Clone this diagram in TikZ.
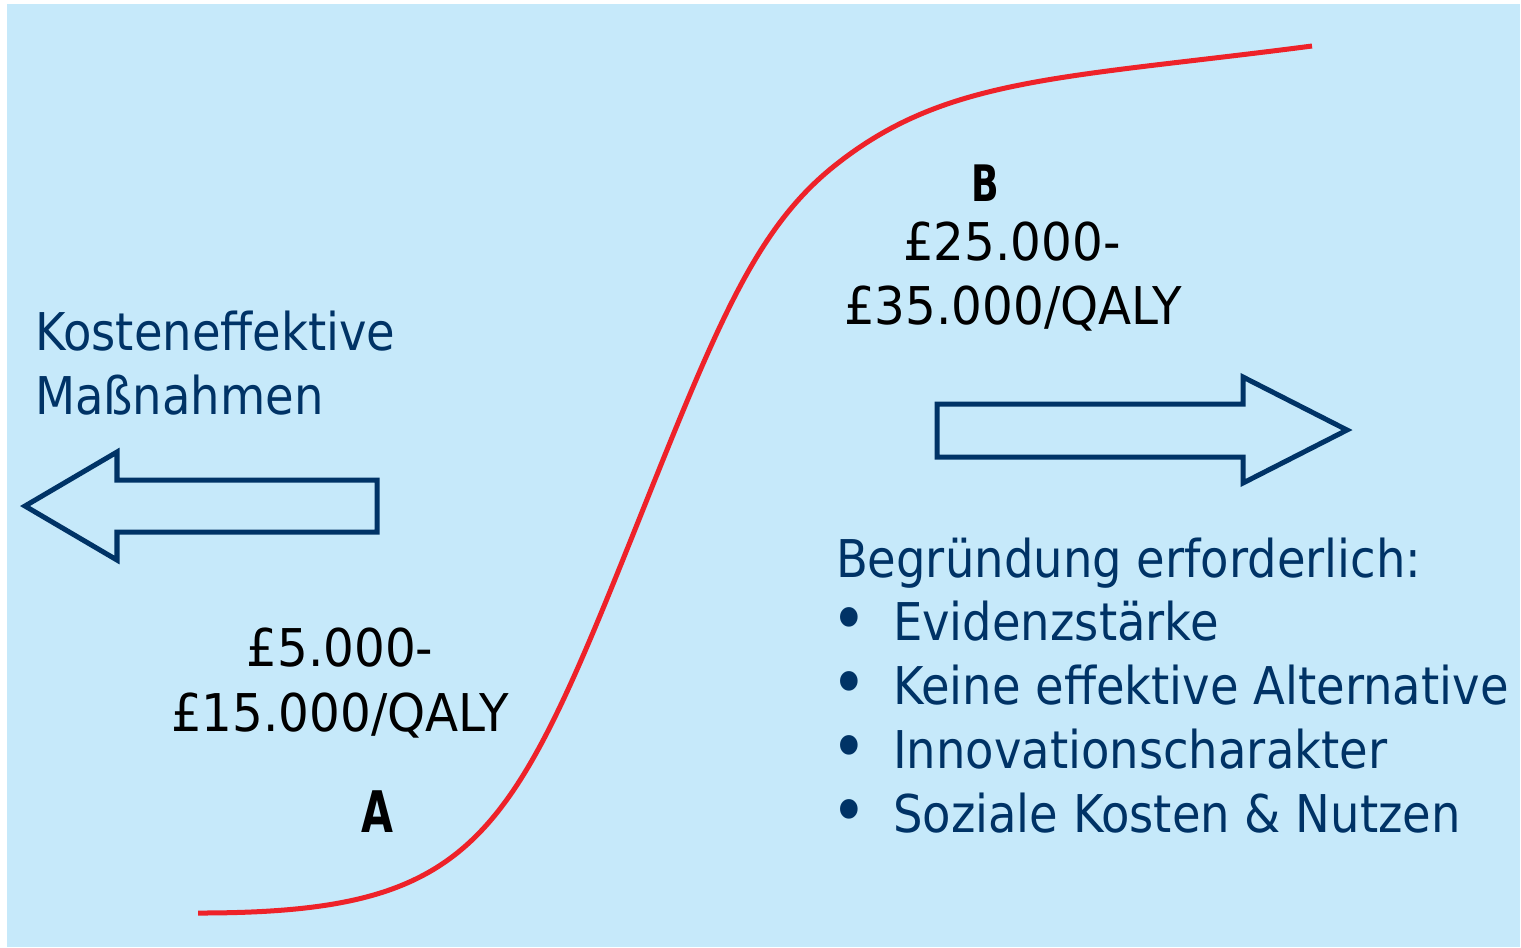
\documentclass[tikz,border=0pt]{standalone}
\usepackage{fontspec}
\setmainfont[FakeStretch=0.893]{DejaVu Sans}
\newfontfamily\numfont[FakeStretch=0.93]{DejaVu Sans}
\newfontfamily\labfont[FakeStretch=0.72]{DejaVu Sans}
\definecolor{bgblue}{HTML}{C6E9FA}
\definecolor{navy}{HTML}{003366}
\definecolor{curvered}{HTML}{EE2229}
\newcommand{\bulletitem}[1]{\makebox[0.62cm][l]{\raisebox{-0.02cm}{\scalebox{1.3}{•}}}#1}
\tikzset{
  txt/.style={inner sep=0pt, outer sep=0pt, font=\fontsize{14.8pt}{18pt}\selectfont},
  bluetxt/.style={txt, text=navy, anchor=base west},
  blacktxt/.style={inner sep=0pt, outer sep=0pt, text=black, anchor=base, font=\numfont\fontsize{14.8pt}{18pt}\selectfont},
  lettertxt/.style={inner sep=0pt, text=black, font=\labfont\bfseries\fontsize{14.3pt}{16pt}\selectfont},
  bigarrow/.style={draw=navy, line width=0.05cm, line join=miter},
  scurve/.style={draw=curvered, line width=0.05cm}
}
\begin{document}
\begin{tikzpicture}[x=0.01cm,y=-0.01cm]
\useasboundingbox (0,0) rectangle (1521,947);
\fill[white] (0,0) rectangle (1521,947);
\fill[bgblue] (7,4) rectangle (1520,947);

% S-curve
\coordinate (c0) at (198,913);
\coordinate (c1) at (640,517);
\coordinate (c2) at (838,163);
\coordinate (c3) at (1312,46);
\draw[scurve] (c0) .. controls (478,913) and (510,842) .. (c1)
  .. controls (720,317) and (758,225) .. (c2)
  .. controls (948,77) and (1062,78.5) .. (c3);

% left arrow
\draw[bigarrow] (25,506) -- (117,452) -- (117,480) -- (377,480) -- (377,532) -- (117,532) -- (117,560) -- cycle;
% right arrow
\draw[bigarrow] (937,404) -- (1243,404) -- (1243,377) -- (1347,430) -- (1243,483) -- (1243,457) -- (937,457) -- cycle;

% left text
\node[bluetxt] (k1) at (35,350) {Kosteneffektive};
\node[bluetxt] (k2) at (35,414) {Maßnahmen};

% B label and text
\node[lettertxt] (B) at (985,183) {B};
\node[blacktxt] (b1) at (1012,260) {£25.000-};
\node[blacktxt] (b2) at (1013,324) {£35.000/QALY};

% A label and text
\node[lettertxt, font=\labfont\bfseries\fontsize{16.3pt}{18pt}\selectfont] (A) at (377,812) {A};
\node[blacktxt] (a1) at (340,666) {£5.000-};
\node[blacktxt] (a2) at (340,731) {£15.000/QALY};

% right text block
\node[bluetxt] (r0) at (836,577) {Begründung erforderlich:};
\node[bluetxt] (r1) at (831,640) {\bulletitem{Evidenzstärke}};
\node[bluetxt] (r2) at (831,704) {\bulletitem{Keine effektive Alternative}};
\node[bluetxt] (r3) at (831,768) {\bulletitem{Innovationscharakter}};
\node[bluetxt] (r4) at (831,832) {\bulletitem{Soziale Kosten \& Nutzen}};
\end{tikzpicture}
\end{document}
